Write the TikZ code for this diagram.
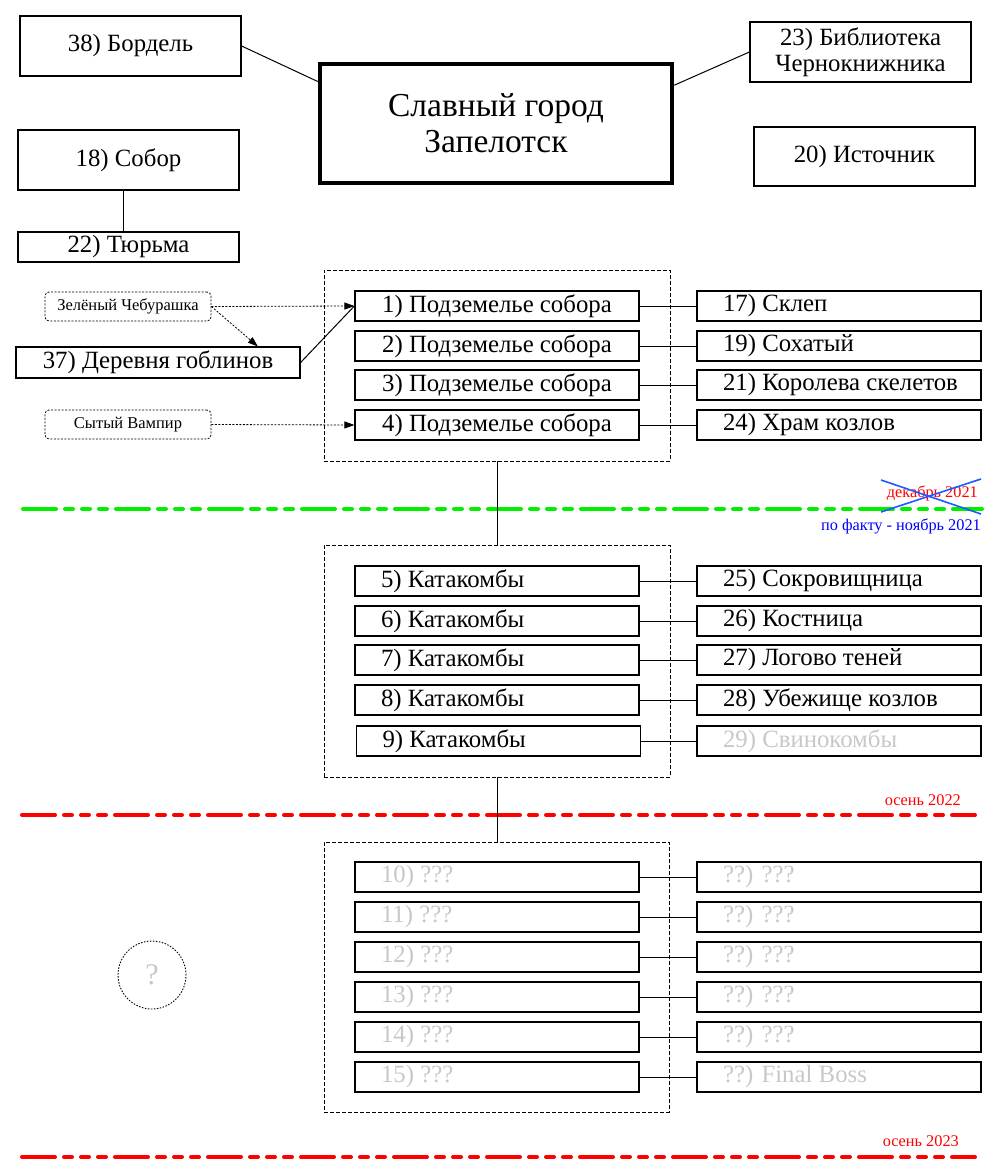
\documentclass[tikz,border=0pt]{standalone}
\usepackage{fontspec}
\setmainfont{Liberation Serif}
\usetikzlibrary{arrows.meta,calc}
\definecolor{ghost}{RGB}{200,200,200}
\definecolor{limeg}{RGB}{0,240,0}
\definecolor{tred}{RGB}{255,0,0}
\definecolor{xblue}{RGB}{30,90,255}
\definecolor{tblue}{RGB}{0,0,255}
\tikzset{
  bx/.style={draw, line width=1.2pt, inner sep=0pt, minimum height=30pt, font=\fontsize{24.8}{27}\selectfont, align=center},
  pbox/.style={bx, minimum width=284pt},
  lbox/.style={bx, text width=232pt, inner xsep=26pt, align=flush left},
  grp/.style={draw, line width=0.8pt, dash pattern=on 4pt off 2pt, minimum width=346pt, inner sep=0pt},
  note/.style={draw, line width=0.8pt, dash pattern=on 2pt off 1.5pt, rounded corners=4pt, minimum width=166pt, minimum height=29pt, inner sep=0pt, font=\fontsize{16.5}{19}\selectfont},
  darr/.style={line width=0.8pt, dash pattern=on 2pt off 1.5pt, -{Triangle[length=10pt,width=7pt]}},
  conn/.style={line width=1pt},
  timeline/.style={line width=4pt, line cap=round, dash pattern=on 33pt off 9pt on 8pt off 9pt on 8pt off 9pt on 8pt off 9pt},
  datelbl/.style={font=\fontsize{16.3}{19}\selectfont, inner sep=0pt},
  ghosttext/.style={text=ghost}
}
\begin{document}
\begin{tikzpicture}[x=1pt,y=-1pt]
\useasboundingbox (0,0) rectangle (1000,1175);
\fill[white] (0,0) rectangle (1000,1175);

% top
\node[draw, line width=4.5pt, minimum width=352pt, minimum height=119pt, inner sep=0pt, align=center, font=\fontsize{33.5}{36}\selectfont] (main) at (496,123.5) {Славный город\\Запелотск};
\node[bx, minimum width=221pt, minimum height=60pt] (b38) at (130.5,46) {38) Бордель};
\node[bx, minimum width=221pt, minimum height=60pt] (l23) at (860.5,52) {23) Библиотека\\[-1pt]Чернокнижника};
\node[bx, minimum width=221pt, minimum height=60pt] (s18) at (128.5,160) {18) Собор};
\node[bx, minimum width=221pt, minimum height=59pt] (r20) at (864.5,156.5) {20) Источник};
\node[bx, minimum width=221pt, minimum height=30pt] (t22) at (128.5,247) {22) Тюрьма};

\draw[conn] (b38.east) -- ($(main.north west)!0.16!(main.south west)$);
\draw[conn] (l23.west) -- ($(main.north east)!0.19!(main.south east)$);
\draw[conn] ($(s18.east)+(0,4)$) -- ($(s18.east)+(0,4)$ -| main.west);
\draw[conn] ($(r20.west)+(0,5.5)$ -| main.east) -- ($(r20.west)+(0,5.5)$);
\draw[conn] ($(s18.south)+(-5,0)$) -- ($(t22.north)+(-5,0)$);

% group 1
\node[grp, minimum height=191pt] (g1) at (497,365.5) {};
\draw[conn] ($(main.south)+(3,0)$) -- ($(main.south)+(3,0)$ |- g1.north);
\node[pbox] (p1) at (497,306) {1) Подземелье собора};
\node[pbox] (p2) at (497,346) {2) Подземелье собора};
\node[pbox] (p3) at (497,385) {3) Подземелье собора};
\node[pbox] (p4) at (497,425) {4) Подземелье собора};
\node[lbox] (r17) at (839,306) {17) Склеп};
\node[lbox] (r19) at (839,346) {19) Сохатый};
\node[lbox] (r21) at (839,385) {\mbox{21) Королева скелетов}};
\node[lbox] (r24) at (839,425) {24) Храм козлов};
\foreach \a/\b in {p1/r17,p2/r19,p3/r21,p4/r24} \draw[conn] (\a.east) -- (\b.west);

\node[note] (cheb) at (128,306.5) {Зелёный Чебурашка};
\node[note] (vamp) at (128,424.5) {Сытый Вампир};
\node[bx, minimum width=284pt, minimum height=31pt] (gob) at (158,362.5) {37) Деревня гоблинов};
\draw[darr] (cheb.east) -- (p1.west);
\draw[darr] (cheb.east) -- ($(gob.north west)!0.85!(gob.north east)$);
\draw[conn] (gob.east) -- (p1.west);
\draw[darr] (vamp.east) -- (p4.west);

% timeline 1
\coordinate (tl1a) at (23,509);
\coordinate (tl1b) at (982,509);
\draw[timeline, limeg] (tl1a) -- (tl1b);
\node[datelbl, text=tred, anchor=east] (dec) at (978,493) {декабрь 2021};
\draw[xblue, line width=1.6pt] (881,480) -- (981,514);
\draw[xblue, line width=1.6pt] (881,512) -- (981,479);
\node[datelbl, text=tblue, anchor=east] (nov) at (981,526) {по факту - ноябрь 2021};

% group 2
\node[grp, minimum height=232pt] (g2) at (497,661) {};
\draw[conn] (g1.south) -- (g2.north);
\node[lbox] (p5) at (497,581) {5) Катакомбы};
\node[lbox] (p6) at (497,621) {6) Катакомбы};
\node[lbox] (p7) at (497,660) {7) Катакомбы};
\node[lbox] (p8) at (497,700) {8) Катакомбы};
\node[lbox] (p9) at (498.5,741) {9) Катакомбы};
\node[lbox] (r25) at (839,581) {25) Сокровищница};
\node[lbox] (r26) at (839,621) {26) Костница};
\node[lbox] (r27) at (839,660) {27) Логово теней};
\node[lbox] (r28) at (839,700) {28) Убежище козлов};
\node[lbox, ghosttext] (r29) at (839,741) {29) Свинокомбы};
\foreach \a/\b in {p5/r25,p6/r26,p7/r27,p8/r28,p9/r29} \draw[conn] (\a.east) -- (\b.west);

% timeline 2
\coordinate (tl2a) at (22,815);
\coordinate (tl2b) at (975,815);
\draw[timeline, tred] (tl2a) -- (tl2b);
\node[datelbl, text=tred, anchor=east] (aut22) at (961,800) {осень 2022};

% group 3
\node[grp, minimum width=345pt, minimum height=270pt] (g3) at (496.5,977) {};
\draw[conn] (g2.south) -- (g2.south |- g3.north);
\node[lbox, ghosttext] (p10) at (497,877) {10) ???};
\node[lbox, ghosttext] (p11) at (497,917) {11) ???};
\node[lbox, ghosttext] (p12) at (497,957) {12) ???};
\node[lbox, ghosttext] (p13) at (497,997) {13) ???};
\node[lbox, ghosttext] (p14) at (497,1037) {14) ???};
\node[lbox, ghosttext] (p15) at (497,1077) {15) ???};
\node[lbox, ghosttext] (r30) at (839,877) {??) ???};
\node[lbox, ghosttext] (r31) at (839,917) {??) ???};
\node[lbox, ghosttext] (r32) at (839,957) {??) ???};
\node[lbox, ghosttext] (r33) at (839,997) {??) ???};
\node[lbox, ghosttext] (r34) at (839,1037) {??) ???};
\node[lbox, ghosttext] (r35) at (839,1077) {??) Final Boss};
\foreach \a/\b in {p10/r30,p11/r31,p12/r32,p13/r33,p14/r34,p15/r35} \draw[conn] (\a.east) -- (\b.west);

\node[circle, draw, line width=0.9pt, dash pattern=on 1.5pt off 1.5pt, minimum size=68pt, inner sep=0pt, text=ghost, font=\fontsize{30}{32}\selectfont] (unk) at (152,975) {?};

% timeline 3
\coordinate (tl3a) at (22,1157);
\coordinate (tl3b) at (975,1157);
\draw[timeline, tred] (tl3a) -- (tl3b);
\node[datelbl, text=tred, anchor=east] (aut23) at (959,1141) {осень 2023};
\end{tikzpicture}
\end{document}
